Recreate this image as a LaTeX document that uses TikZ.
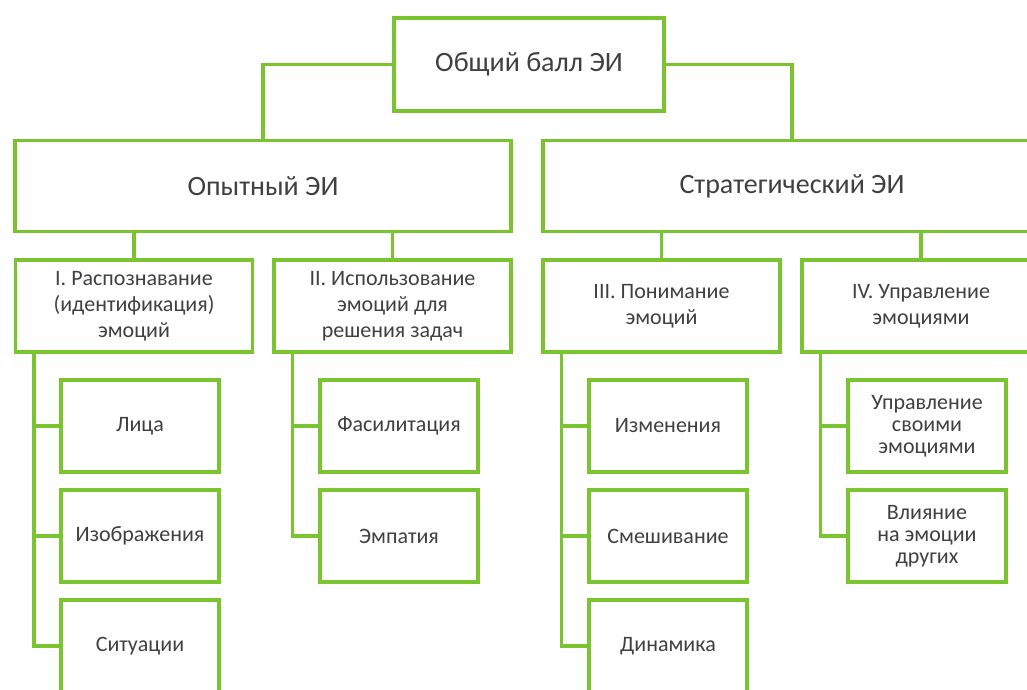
\documentclass[tikz,border=0pt]{standalone}
\usepackage{fontspec}
\setmainfont{Carlito}
\usepackage{tikz}
\usetikzlibrary{calc}
\definecolor{leafgreen}{RGB}{122,196,48}
\definecolor{inkgray}{RGB}{64,64,64}

\begin{document}
\begin{tikzpicture}[x=1pt, y=-1pt,
  box/.style={draw=leafgreen, line width=3.5pt, fill=white, text=inkgray,
    align=center, inner sep=2pt},
  link/.style={draw=leafgreen, line width=3.5pt},
  big/.style={box, minimum height=91pt, font=\fontsize{28}{32}\selectfont},
  mid/.style={box, minimum width=237pt, minimum height=92pt,
    font=\fontsize{22}{26}\selectfont},
  leaf/.style={box, minimum width=158pt, minimum height=92pt,
    font=\fontsize{22}{26}\selectfont}]

\useasboundingbox (0,0) rectangle (1027,690);
\clip (0,0) rectangle (1027,690);

% top level
\node[big, minimum width=270pt, minimum height=93pt] (total) at (529,64.5) {Общий балл ЭИ};

\node[big, minimum width=496pt] (exp) at (263,186) {Опытный ЭИ};
\node[big, minimum width=498pt] (strat) at (792,186) {Стратегический ЭИ};

\draw[link] (total.west) -| (exp.north);
\draw[link] (total.east) -| (strat.north);

% branches
\node[mid] (perc) at (134,306) {I. Распознавание\\(идентификация)\\эмоций};
\node[mid] (use) at (392.5,306) {II. Использование\\эмоций для\\решения задач};
\node[mid] (und) at (661.5,306) {III. Понимание\\эмоций};
\node[mid, minimum width=238pt] (man) at (921,306) {IV. Управление\\эмоциями};

\foreach \b/\p in {perc/exp, use/exp, und/strat, man/strat}
  \draw[link] (\b.north) -- (\b.north |- \p.south);

% leaves
\node[leaf] (face) at (140,426) {Лица};
\node[leaf] (pict) at (140,536) {Изображения};
\node[leaf] (situ) at (140,646) {Ситуации};

\node[leaf] (facil) at (399,426) {Фасилитация};
\node[leaf] (emp) at (399,536) {Эмпатия};

\node[leaf] (chg) at (668,426) {Изменения};
\node[leaf] (mix) at (668,536) {Смешивание};
\node[leaf] (dyn) at (668,646) {Динамика};

\node[leaf, font=\fontsize{22}{22}\selectfont] (self) at (927,426) {Управление\\своими\\эмоциями};
\node[leaf, font=\fontsize{22}{22}\selectfont] (other) at (927,536) {Влияние\\на эмоции\\других};

\coordinate (s1) at ([xshift=20pt]perc.south west);
\coordinate (s2) at ([xshift=20pt]use.south west);
\coordinate (s3) at ([xshift=20pt]und.south west);
\coordinate (s4) at ([xshift=20pt]man.south west);

\draw[link] (s1) |- (situ.west) (s1) |- (pict.west) (s1) |- (face.west);
\draw[link] (s2) |- (emp.west) (s2) |- (facil.west);
\draw[link] (s3) |- (dyn.west) (s3) |- (mix.west) (s3) |- (chg.west);
\draw[link] (s4) |- (other.west) (s4) |- (self.west);

\end{tikzpicture}
\end{document}
